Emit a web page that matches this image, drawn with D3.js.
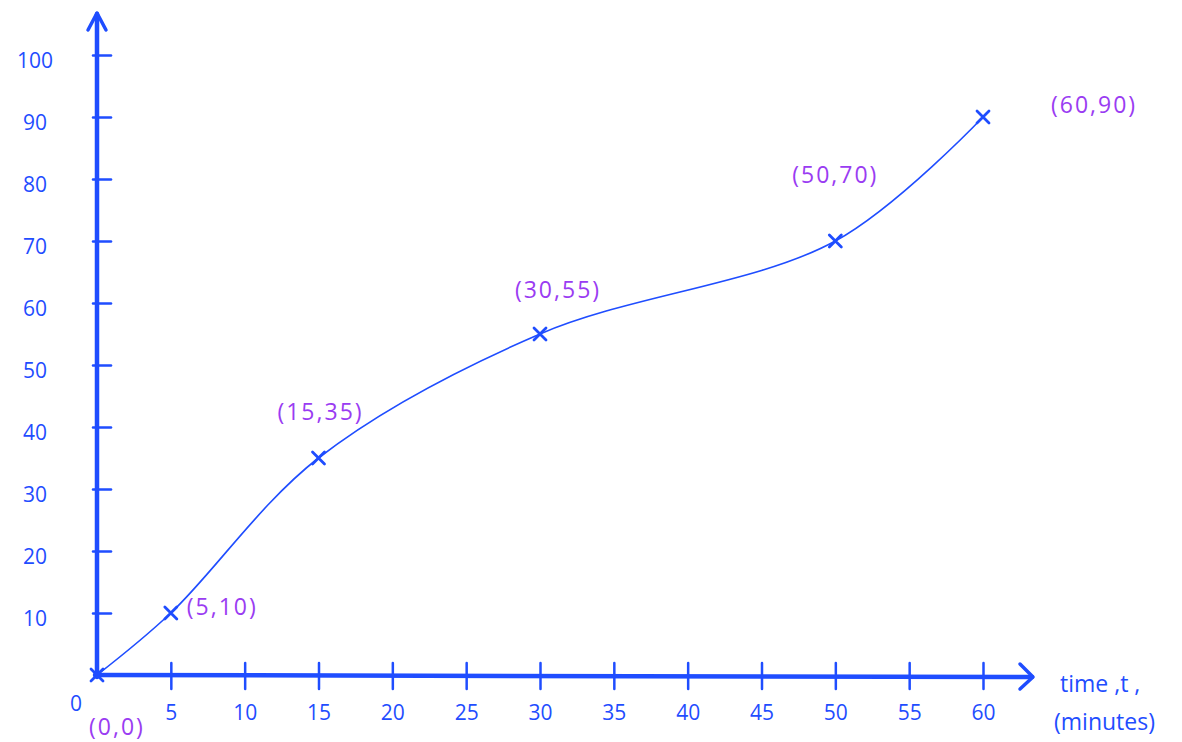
<!DOCTYPE html>
<html>
<head>
<meta charset="utf-8">
<script src="https://cdn.jsdelivr.net/npm/d3@7"></script>
<style>
  body { margin: 0; background: #fff; }
  svg { display: block; }
  text { font-family: "Open Sans", sans-serif; }
</style>
</head>
<body>
<div id="chart"></div>
<script>
var times = [0, 5, 15, 30, 50, 60]
var values = [0, 10, 35, 55, 70, 90]
var pointLabels = ['(0,0)', '(5,10)', '(15,35)', '(30,55)', '(50,70)', '(60,90)']
var xTicks = [5, 10, 15, 20, 25, 30, 35, 40, 45, 50, 55, 60]
var yTicks = [10, 20, 30, 40, 50, 60, 70, 80, 90, 100]
var xTitle = ['time ,t ,', '(minutes)']

var width = 1182
var height = 742
var blue = '#1f4dff'
var purple = '#9a3cf2'

var x = d3.scaleLinear().domain([0, 60]).range([97, 983])
var y = d3.scaleLinear().domain([0, 100]).range([675, 55])

var svg = d3.select('#chart').append('svg')
  .attr('width', width)
  .attr('height', height)

// axes
var xAxis = d3.axisBottom(x).tickValues(xTicks).tickSize(0).tickPadding(30)
var yAxis = d3.axisLeft(y).tickValues(yTicks).tickSize(0).tickPadding(62)

var gx = svg.append('g')
  .attr('transform', 'translate(0,' + y(0) + ')')
  .call(xAxis)
gx.select('.domain').remove()
gx.selectAll('.tick line')
  .attr('y1', -12).attr('y2', 14)
  .attr('stroke', blue).attr('stroke-width', 2.5).attr('stroke-linecap', 'round')
gx.selectAll('.tick text')
  .attr('fill', blue).attr('font-size', 21)

var gy = svg.append('g')
  .attr('transform', 'translate(' + x(0) + ',0)')
  .call(yAxis)
gy.select('.domain').remove()
gy.selectAll('.tick line')
  .attr('x1', -4).attr('x2', 14)
  .attr('stroke', blue).attr('stroke-width', 2.5).attr('stroke-linecap', 'round')
gy.selectAll('.tick text')
  .attr('fill', blue).attr('font-size', 21)
  .attr('text-anchor', 'middle')
  .attr('dy', '0.6em')

// axis lines with arrows
svg.append('line')
  .attr('x1', x(0)).attr('y1', y(0) + 2)
  .attr('x2', x(0)).attr('y2', 14)
  .attr('stroke', blue).attr('stroke-width', 4.5).attr('stroke-linecap', 'round')
svg.append('path')
  .attr('d', 'M' + (x(0) - 9) + ',30 L' + x(0) + ',13 L' + (x(0) + 9) + ',30')
  .attr('fill', 'none').attr('stroke', blue).attr('stroke-width', 3.5)
  .attr('stroke-linecap', 'round').attr('stroke-linejoin', 'round')

svg.append('line')
  .attr('x1', x(0) - 2).attr('y1', y(0))
  .attr('x2', 1032).attr('y2', y(0) + 2)
  .attr('stroke', blue).attr('stroke-width', 4.5).attr('stroke-linecap', 'round')
svg.append('path')
  .attr('d', 'M1020,' + (y(0) - 11) + ' L1033,' + (y(0) + 2) + ' L1020,' + (y(0) + 14))
  .attr('fill', 'none').attr('stroke', blue).attr('stroke-width', 3.5)
  .attr('stroke-linecap', 'round').attr('stroke-linejoin', 'round')

// origin label
svg.append('text')
  .attr('x', 76).attr('y', 711)
  .attr('text-anchor', 'middle')
  .attr('fill', blue).attr('font-size', 21)
  .text('0')

// axis title
svg.selectAll('.xtitle')
  .data(xTitle)
  .enter().append('text')
  .attr('class', 'xtitle')
  .attr('x', function(d, i) { return i === 0 ? 1060 : 1054 })
  .attr('y', function(d, i) { return 692 + i * 38 })
  .attr('fill', blue).attr('font-size', 23)
  .text(function(d) { return d })

// curve
var data = times.map(function(t, i) { return {x: t, y: values[i], label: pointLabels[i]} })

var line = d3.line()
  .x(function(d) { return x(d.x) })
  .y(function(d) { return y(d.y) })
  .curve(d3.curveCatmullRom.alpha(0.5))

svg.append('path')
  .datum(data)
  .attr('fill', 'none')
  .attr('stroke', blue)
  .attr('stroke-width', 1.6)
  .attr('d', line)

// crosses
var s = 6
svg.selectAll('.cross')
  .data(data)
  .enter().append('path')
  .attr('class', 'cross')
  .attr('d', function(d) {
    var cx = x(d.x), cy = y(d.y)
    return 'M' + (cx - s) + ',' + (cy - s) + 'L' + (cx + s) + ',' + (cy + s) +
      'M' + (cx + s) + ',' + (cy - s) + 'L' + (cx - s) + ',' + (cy + s)
  })
  .attr('stroke', blue).attr('stroke-width', 2.8).attr('stroke-linecap', 'round')

// point labels
var offsets = [
  {dx: 20, dy: 60, anchor: 'middle'},
  {dx: 16, dy: 2, anchor: 'start'},
  {dx: 2, dy: -38, anchor: 'middle'},
  {dx: 18, dy: -36, anchor: 'middle'},
  {dx: 0, dy: -58, anchor: 'middle'},
  {dx: 68, dy: -4, anchor: 'start'}
]
svg.selectAll('.plabel')
  .data(data)
  .enter().append('text')
  .attr('class', 'plabel')
  .attr('x', function(d, i) { return x(d.x) + offsets[i].dx })
  .attr('y', function(d, i) { return y(d.y) + offsets[i].dy })
  .attr('text-anchor', function(d, i) { return offsets[i].anchor })
  .attr('fill', purple).attr('font-size', 23)
  .attr('letter-spacing', 2)
  .text(function(d) { return d.label })
</script>
</body>
</html>
